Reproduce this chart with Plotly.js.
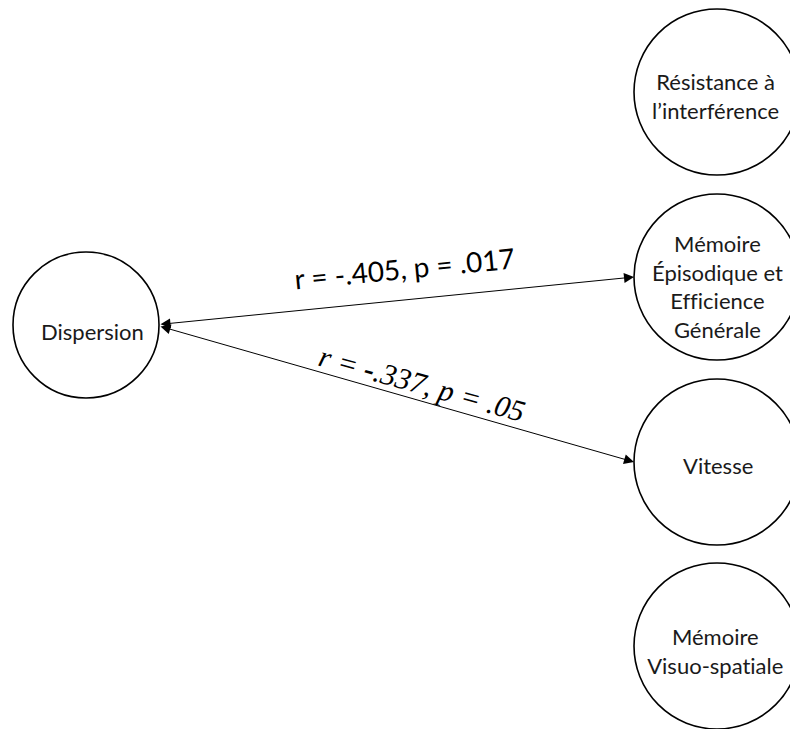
<!DOCTYPE html>
<html>
<head>
<meta charset="utf-8">
<script src="https://cdn.plot.ly/plotly-3.0.1.min.js"></script>
<style>
html,body{margin:0;padding:0;background:#fff;}
#chart{width:790px;height:729px;}
#chart text{font-variant-ligatures:none;font-feature-settings:"liga" 0,"clig" 0,"dlig" 0;}
</style>
</head>
<body>
<div id="chart"></div>
<script>
// ---- data ----
const nodeLabels = [
  'Dispersion',
  'Résistance à<br>l’interférence',
  'Mémoire<br>Épisodique et<br>Efficience<br>Générale',
  'Vitesse',
  'Mémoire<br>Visuo-spatiale'
];
const edgeFrom = [0, 0];
const edgeTo = [2, 3];
const edgeR = ['-.405', '-.337'];
const edgeP = ['.017', '.05'];

// ---- layout (positions / sizes, pixel-like data coordinates) ----
const nodeCX = [86, 717, 717, 717, 717];
const nodeCY = [325, 92, 277, 462, 646];
const nodeRad = [73, 83, 83, 83, 83];
const labelDX = [6, -2, 0, 1, -2];
const labelDY = [6, 4, 9, 3, 5];
const edgeLabelPos = [[404, 268, -5.5], [422, 383, 15.5]];
const edgeStyle = ['sans', 'serif'];

const shapes = nodeCX.map((cx, i) => ({
  type: 'circle', xref: 'x', yref: 'y',
  x0: cx - nodeRad[i], x1: cx + nodeRad[i],
  y0: nodeCY[i] - nodeRad[i], y1: nodeCY[i] + nodeRad[i],
  line: {color: '#000', width: 1.6}, fillcolor: 'rgba(0,0,0,0)', layer: 'above'
}));

const annotations = [];
nodeLabels.forEach((t, i) => {
  annotations.push({
    x: nodeCX[i] + labelDX[i], y: nodeCY[i] + labelDY[i], xref: 'x', yref: 'y',
    text: t, showarrow: false, align: 'center',
    font: {family: 'Lato, Carlito, sans-serif', size: 22, color: '#1a1a1a'}
  });
});
edgeFrom.forEach((f, k) => {
  const t = edgeTo[k];
  const x0 = nodeCX[f] + nodeRad[f], y0 = nodeCY[f] + (k === 0 ? -0.5 : 1);
  const x1 = nodeCX[t] - nodeRad[t], y1 = nodeCY[t];
  annotations.push({
    x: x1, y: y1, ax: x0, ay: y0, xref: 'x', yref: 'y', axref: 'x', ayref: 'y',
    text: '', showarrow: true, arrowside: 'end+start',
    arrowhead: 2, startarrowhead: 2, arrowsize: 2, startarrowsize: 2,
    arrowwidth: 1, arrowcolor: '#000', standoff: 0, startstandoff: 0
  });
  const pos = edgeLabelPos[k];
  const txt = edgeStyle[k] === 'sans'
    ? 'r = ' + edgeR[k] + ', p = ' + edgeP[k]
    : '<i>r</i> = <b>-</b>' + edgeR[k].slice(1) + ', <i>p</i> = ' + edgeP[k];
  annotations.push({
    x: pos[0], y: pos[1], xref: 'x', yref: 'y', text: txt, showarrow: false,
    textangle: pos[2],
    font: edgeStyle[k] === 'sans'
      ? {family: 'Lato, Carlito, sans-serif', size: 28, color: '#000'}
      : {family: 'Liberation Serif, Times New Roman, serif', size: 30, color: '#000', style: 'italic'}
  });
});

const layout = {
  width: 790, height: 729,
  margin: {l: 0, r: 0, t: 0, b: 0},
  paper_bgcolor: '#fff', plot_bgcolor: '#fff',
  showlegend: false,
  xaxis: {range: [0, 790], visible: false, fixedrange: true},
  yaxis: {range: [729, 0], visible: false, fixedrange: true},
  shapes: shapes,
  annotations: annotations
};

Plotly.newPlot('chart', [{x: [], y: [], type: 'scatter', mode: 'markers', hoverinfo: 'skip'}], layout, {staticPlot: true, displayModeBar: false});
</script>
</body>
</html>
